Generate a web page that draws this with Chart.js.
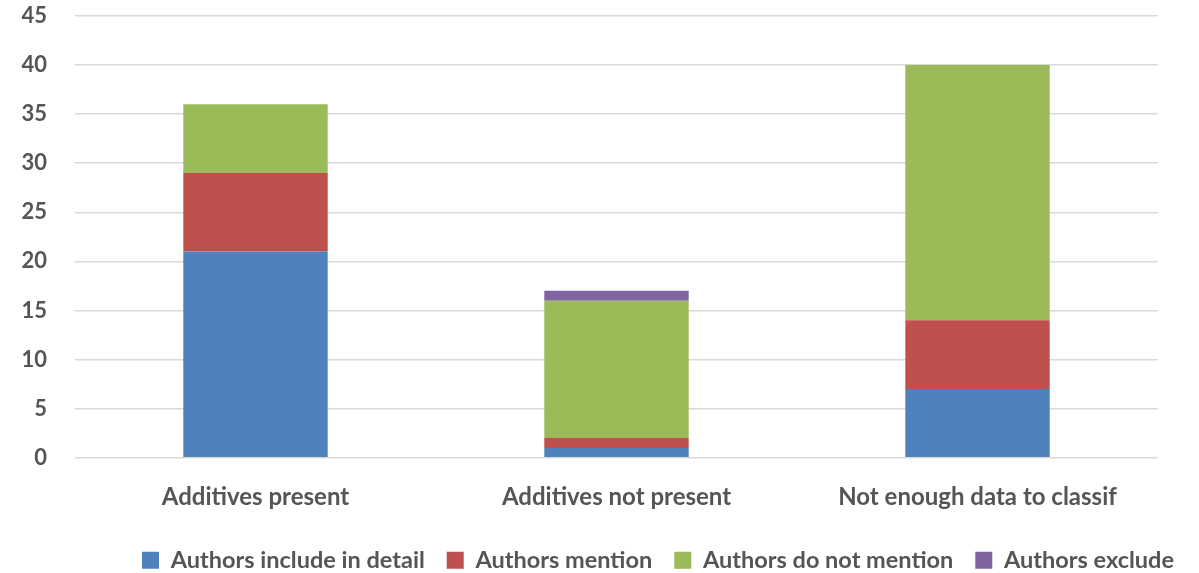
<!DOCTYPE html>
<html>
<head>
<meta charset="utf-8">
<script src="https://cdn.jsdelivr.net/npm/chart.js@4"></script>
<style>
  html, body { margin: 0; padding: 0; background: #ffffff; }
  #wrap { width: 1199px; height: 573px; position: relative; }
</style>
</head>
<body>
<div id="wrap"><canvas id="chart"></canvas></div>
<script>
// Stacked counts of studies per additive classification
const categories = ["Additives present", "Additives not present", "Not enough data to classif"];
const includeInDetail = [21, 1, 7];
const mention = [8, 1, 7];
const doNotMention = [7, 14, 26];
const exclude = [0, 1, 0];
const yTicks = [0, 5, 10, 15, 20, 25, 30, 35, 40, 45];

const textColor = "#555555";
const fontFamily = "Lato, 'Open Sans', sans-serif";

// Nudges the legend row after layout so it sits under the right-hand part of the plot
const legendOffset = {
  id: "legendOffset",
  afterLayout(chart) {
    const lg = chart.legend;
    if (!lg) return;
    const dx = 79, dy = -2;
    lg.left += dx; lg.right += dx;
    lg.top += dy; lg.bottom += dy;
  }
};

new Chart(document.getElementById("chart"), {
  type: "bar",
  data: {
    labels: categories,
    datasets: [
      { label: "Authors include in detail", data: includeInDetail, backgroundColor: "#4f81bd" },
      { label: "Authors mention", data: mention, backgroundColor: "#c0504d" },
      { label: "Authors do not mention", data: doNotMention, backgroundColor: "#9bbb59" },
      { label: "Authors exclude", data: exclude, backgroundColor: "#8064a2" }
    ]
  },
  plugins: [legendOffset],
  options: {
    responsive: true,
    maintainAspectRatio: false,
    animation: false,
    layout: { padding: { left: 0, right: 41, top: 16, bottom: -11 } },
    datasets: { bar: { barPercentage: 0.4, categoryPercentage: 1.0 } },
    plugins: {
      tooltip: { enabled: false },
      legend: {
        position: "bottom",
        labels: {
          color: textColor,
          font: { family: fontFamily, size: 23.5, weight: "bold" },
          boxWidth: 17,
          boxHeight: 17,
          padding: 22
        }
      }
    },
    scales: {
      x: {
        stacked: true,
        grid: { display: false },
        border: { display: false },
        ticks: {
          color: textColor,
          font: { family: fontFamily, size: 24, weight: "bold" },
          padding: 17
        }
      },
      y: {
        stacked: true,
        min: 0,
        max: 45,
        afterBuildTicks: (axis) => { axis.ticks = yTicks.map(v => ({ value: v })); },
        afterFit: (axis) => {
          axis.width = 75;
          axis.paddingTop = 0;
          axis.paddingBottom = 0;
        },
        grid: { color: "#d9d9d9", lineWidth: 1.5, drawTicks: false },
        border: { display: false },
        ticks: {
          color: textColor,
          font: { family: fontFamily, size: 22, weight: "bold" },
          padding: 28
        }
      }
    }
  }
});
</script>
</body>
</html>
